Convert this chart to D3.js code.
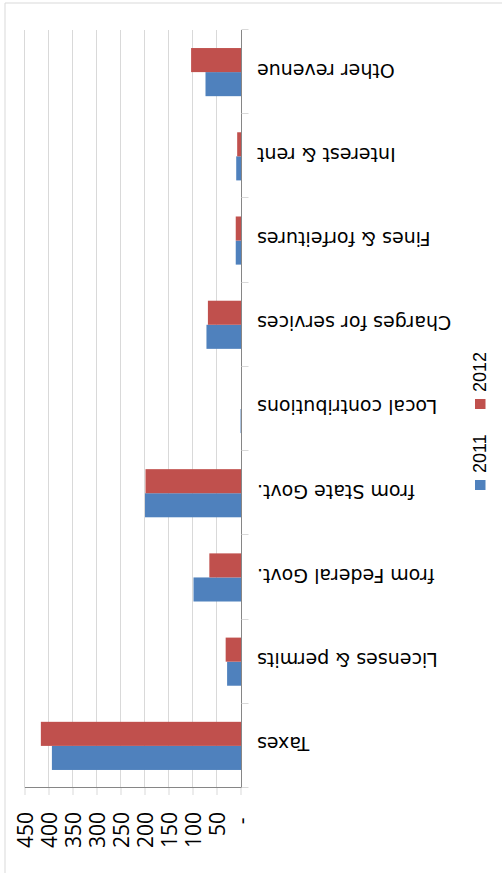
<!DOCTYPE html>
<html>
<head>
<meta charset="utf-8">
<script src="https://cdn.jsdelivr.net/npm/d3@7"></script>
<style>
  html, body { margin: 0; padding: 0; background: #fff; }
  svg { display: block; }
</style>
</head>
<body>
<svg id="chart" width="502" height="873"></svg>
<script>
// Revenue by source, 2011 vs 2012
const categories = [
  "Taxes",
  "Licenses & permits",
  "from Federal Govt.",
  "from State Govt.",
  "Local contributions",
  "Charges for services",
  "Fines & forfeitures",
  "Interest & rent",
  "Other revenue"
];
const seriesNames = ["2011", "2012"];
const values2011 = [395, 30, 100, 201, 2, 73, 12, 11, 75];
const values2012 = [418, 33, 67, 200, 1, 70, 12, 9, 105];
const tickValues = [0, 50, 100, 150, 200, 250, 300, 350, 400, 450];
const tickLabels = ["-\u00A0", "50", "100", "150", "200", "250", "300", "350", "400", "450"];
const seriesColors = ["#4F81BD", "#C0504D"];

const W = 502, H = 873;
const svg = d3.select("#chart");

// The whole sheet is turned upside down.
const root = svg.append("g").attr("transform", `rotate(180 ${W / 2} ${H / 2})`);

const plot = { left: 260.5, right: 476.5, top: 85, bottom: 843 };

const x = d3.scaleLinear().domain([0, 450]).range([plot.left, plot.right]);

// Gap width 150%: two bars of width b plus 1.5b of gap per category
const gapRatio = 1.5 / 3.5;
const y0 = d3.scaleBand()
  .domain(categories)
  .range([plot.top, plot.bottom])
  .paddingInner(gapRatio)
  .paddingOuter(gapRatio / 2);
const y1 = d3.scaleBand().domain(seriesNames).range([0, y0.bandwidth()]);

// Chart area border
root.append("path")
  .attr("d", `M${W - 5},0 V${H - 3} H0`)
  .attr("fill", "none")
  .attr("stroke", "#d9d9d9")
  .attr("stroke-width", 1);

// Vertical gridlines
root.append("g")
  .selectAll("line")
  .data(tickValues.filter(v => v > 0))
  .join("line")
  .attr("x1", d => Math.round(x(d)) + 0.5)
  .attr("x2", d => Math.round(x(d)) + 0.5)
  .attr("y1", plot.top)
  .attr("y2", plot.bottom)
  .attr("stroke", "#d9d9d9")
  .attr("stroke-width", 1);

// Value axis along the top
const xAxis = d3.axisTop(x)
  .tickValues(tickValues)
  .tickSize(7)
  .tickSizeOuter(0)
  .tickFormat((d, i) => tickLabels[i]);

const gx = root.append("g")
  .attr("transform", `translate(0,${plot.top})`)
  .call(xAxis);
gx.select(".domain").attr("stroke", "#868686");
gx.selectAll(".tick line").attr("stroke", "#d9d9d9");
gx.selectAll(".tick text")
  .attr("fill", "#000")
  .attr("font-family", "'Open Sans', 'Liberation Sans', sans-serif")
  .attr("font-size", 21)
  .attr("text-anchor", "end")
  .attr("x", 0)
  .attr("y", 0)
  .attr("dy", "0.36em")
  .attr("transform", `translate(0,${61 - plot.top}) rotate(90)`);

// Bars
const rows = categories.map((c, i) => ({ cat: c, vals: [values2011[i], values2012[i]] }));
const groups = root.append("g")
  .selectAll("g")
  .data(rows)
  .join("g")
  .attr("transform", d => `translate(0,${y0(d.cat)})`);

groups.selectAll("rect")
  .data(d => d.vals.map((v, k) => ({ series: seriesNames[k], value: v, k })))
  .join("rect")
  .attr("x", x(0))
  .attr("y", d => y1(d.series))
  .attr("width", d => x(d.value) - x(0))
  .attr("height", y1.bandwidth())
  .attr("fill", d => seriesColors[d.k]);

// Category axis
const yAxis = d3.axisLeft(y0).tickSize(0).tickFormat(d => d);
const gy = root.append("g")
  .attr("transform", `translate(${plot.left},0)`)
  .call(yAxis);
gy.select(".domain").attr("stroke", "#868686").attr("d", `M0,${plot.top}V${plot.bottom}`);
gy.selectAll(".tick text")
  .attr("fill", "#000")
  .attr("font-family", "'DejaVu Sans', Verdana, sans-serif")
  .attr("font-size", 19)
  .attr("x", -15.5)
  .attr("dy", "0.45em");

// Tick marks on category boundaries
const step = y0.step();
const bounds = d3.range(categories.length + 1).map(i => plot.top + i * step);
root.append("g")
  .selectAll("line")
  .data(bounds)
  .join("line")
  .attr("x1", plot.left - 7)
  .attr("x2", plot.left)
  .attr("y1", d => Math.round(d) + 0.5)
  .attr("y2", d => Math.round(d) + 0.5)
  .attr("stroke", "#d9d9d9");

// Legend
const legend = root.append("g").attr("transform", "translate(22,0)");
const legendY = [383, 464];
seriesNames.forEach((name, k) => {
  legend.append("rect")
    .attr("x", -5.5)
    .attr("y", legendY[k])
    .attr("width", 10.5)
    .attr("height", 10)
    .attr("fill", seriesColors[k]);
  legend.append("text")
    .attr("transform", `translate(0,${legendY[k] + 17}) rotate(90)`)
    .attr("dy", "0.36em")
    .attr("font-family", "'Liberation Sans Narrow', 'Arial Narrow', 'Liberation Sans', sans-serif")
    .attr("font-size", 18)
    .attr("fill", "#000")
    .text(name);
});
</script>
</body>
</html>
